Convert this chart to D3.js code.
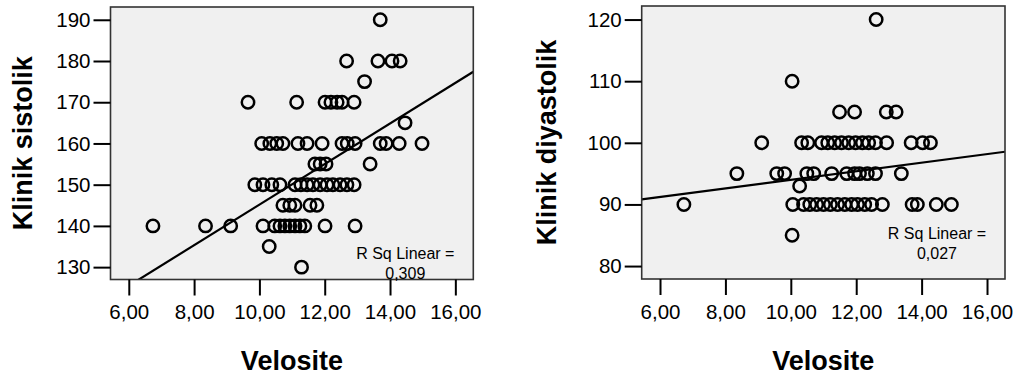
<!DOCTYPE html>
<html>
<head>
<meta charset="utf-8">
<script src="https://cdn.jsdelivr.net/npm/d3@7"></script>
<style>
  body { margin: 0; background: #fff; }
  svg text { font-family: Arial, "Liberation Sans", sans-serif; fill: #000; }
</style>
</head>
<body>
<div id="chart"></div>
<script>
// velocity ticks shared by both panels
var veloTicks = [6, 8, 10, 12, 14, 16];
var sisTicks = [130, 140, 150, 160, 170, 180, 190];
var diaTicks = [80, 90, 100, 110, 120];

// left panel: Velosite vs Klinik sistolik
var sisVelo = [
  13.70,
  12.67, 13.63, 14.06, 14.31,
  13.22,
  9.65, 11.14, 12.01, 12.19, 12.38, 12.53, 12.90,
  14.46,
  10.07, 10.32, 10.53, 10.72, 11.18, 11.46, 11.92, 12.53, 12.69, 12.93, 13.70, 13.88, 14.28, 14.98,
  11.70, 11.86, 12.04, 13.39,
  9.86, 10.11, 10.38, 10.63, 11.09, 11.27, 11.46, 11.64, 11.86, 12.07, 12.25, 12.47, 12.68, 12.90,
  10.72, 10.93, 11.09, 11.55, 11.76,
  6.74, 8.35, 9.12, 10.11, 10.47, 10.63, 10.78, 10.93, 11.09, 11.24, 11.39, 12.01, 12.93,
  10.30,
  11.29
];
var sisValue = [
  190,
  180, 180, 180, 180,
  175,
  170, 170, 170, 170, 170, 170, 170,
  165,
  160, 160, 160, 160, 160, 160, 160, 160, 160, 160, 160, 160, 160, 160,
  155, 155, 155, 155,
  150, 150, 150, 150, 150, 150, 150, 150, 150, 150, 150, 150, 150, 150,
  145, 145, 145, 145, 145,
  140, 140, 140, 140, 140, 140, 140, 140, 140, 140, 140, 140, 140,
  135,
  130
];
var sisFit = [95.96, 4.92];   // intercept, slope
var sisRsq = "0,309";

// right panel: Velosite vs Klinik diyastolik
var diaVelo = [
  12.61,
  10.04,
  11.49, 11.95, 12.92, 13.22,
  9.11, 10.33, 10.52, 10.94, 11.13, 11.34, 11.55, 11.77, 11.98, 12.19, 12.38, 12.59, 12.93, 13.68, 14.03, 14.27,
  8.35, 9.57, 9.81, 10.49, 10.70, 11.25, 11.71, 11.95, 12.10, 12.34, 12.59, 13.38,
  10.27,
  6.73, 10.06, 10.39, 10.58, 10.79, 11.00, 11.21, 11.43, 11.65, 11.86, 12.04, 12.26, 12.47, 12.80, 13.71, 13.87, 14.45, 14.91,
  10.04
];
var diaValue = [
  120,
  110,
  105, 105, 105, 105,
  100, 100, 100, 100, 100, 100, 100, 100, 100, 100, 100, 100, 100, 100, 100, 100,
  95, 95, 95, 95, 95, 95, 95, 95, 95, 95, 95, 95,
  93,
  90, 90, 90, 90, 90, 90, 90, 90, 90, 90, 90, 90, 90, 90, 90, 90, 90, 90,
  85
];
var diaFit = [87.05, 0.695];
var diaRsq = "0,027";

var width = 1019;
var height = 376;

var svg = d3.select("#chart").append("svg")
  .attr("width", width)
  .attr("height", height);

var fmt = function(d) { return d3.format(".2f")(d).replace(".", ","); };

function draw_panel(opt) {
  var x = d3.scaleLinear().domain([5.44, 16.55]).range([opt.left, opt.right]);
  var y = d3.scaleLinear().domain(opt.ydom).range([opt.bottom, opt.top]);

  var g = svg.append("g");

  g.append("rect")
    .attr("x", opt.left)
    .attr("y", opt.top)
    .attr("width", opt.right - opt.left)
    .attr("height", opt.bottom - opt.top)
    .style("fill", "#f0f0f0");

  var clipId = "clip" + opt.id;
  g.append("clipPath").attr("id", clipId)
    .append("rect")
    .attr("x", opt.left)
    .attr("y", opt.top)
    .attr("width", opt.right - opt.left)
    .attr("height", opt.bottom - opt.top);

  // fit line
  var xd = x.domain();
  g.append("line")
    .attr("clip-path", "url(#" + clipId + ")")
    .attr("x1", x(xd[0]))
    .attr("y1", y(opt.fit[0] + opt.fit[1] * xd[0]))
    .attr("x2", x(xd[1]))
    .attr("y2", y(opt.fit[0] + opt.fit[1] * xd[1]))
    .style("stroke", "#000")
    .style("stroke-width", 2.2);

  g.selectAll(".pt").data(opt.xs)
    .enter().append("circle")
    .attr("class", "pt")
    .attr("cx", function(d) { return x(d); })
    .attr("cy", function(d, i) { return y(opt.ys[i]); })
    .attr("r", 6.2)
    .style("fill", "none")
    .style("stroke", "#000")
    .style("stroke-width", 2.5);

  g.append("rect")
    .attr("x", opt.left)
    .attr("y", opt.top)
    .attr("width", opt.right - opt.left)
    .attr("height", opt.bottom - opt.top)
    .style("fill", "none")
    .style("stroke", "#333")
    .style("stroke-width", 1.6);

  // axes
  var xa = g.append("g")
    .attr("transform", "translate(0," + opt.bottom + ")")
    .call(d3.axisBottom(x).tickValues(veloTicks).tickFormat(fmt).tickSize(16).tickPadding(9));
  var ya = g.append("g")
    .attr("transform", "translate(" + opt.left + ",0)")
    .call(d3.axisLeft(y).tickValues(opt.yticks).tickFormat(d3.format("d")).tickSize(17).tickPadding(3));

  [xa, ya].forEach(function(a) {
    a.select(".domain").remove();
    a.selectAll("line").style("stroke", "#000").style("stroke-width", 2);
    a.selectAll("text").style("font-size", "20.5px").style("fill", "#000");
  });

  // r square note
  var cx = opt.right - 68;
  g.append("text")
    .attr("x", cx).attr("y", opt.bottom - opt.rsqY)
    .attr("text-anchor", "middle")
    .style("font-size", "16px")
    .text("R Sq Linear =");
  g.append("text")
    .attr("x", cx).attr("y", opt.bottom - opt.rsqY + 20)
    .attr("text-anchor", "middle")
    .style("font-size", "16px")
    .text(opt.rsq);

  // axis titles
  g.append("text")
    .attr("x", (opt.left + opt.right) / 2)
    .attr("y", 370)
    .attr("text-anchor", "middle")
    .style("font-size", "27px")
    .style("font-weight", "bold")
    .text("Velosite");

  g.append("text")
    .attr("transform", "translate(" + (opt.left - opt.titleOff) + "," + ((opt.top + opt.bottom) / 2) + ") rotate(-90)")
    .attr("text-anchor", "middle")
    .style("font-size", "27px")
    .style("font-weight", "bold")
    .text(opt.ytitle);
}

draw_panel({
  id: 1, left: 110.5, right: 473.3, top: 7, bottom: 279.5,
  ydom: [127.0, 193.1], yticks: sisTicks,
  xs: sisVelo, ys: sisValue, fit: sisFit, rsq: sisRsq, rsqY: 21,
  ytitle: "Klinik sistolik", titleOff: 79
});

draw_panel({
  id: 2, left: 641.7, right: 1005, top: 6, bottom: 279,
  ydom: [77.9, 122.2], yticks: diaTicks,
  xs: diaVelo, ys: diaValue, fit: diaFit, rsq: diaRsq, rsqY: 40,
  ytitle: "Klinik diyastolik", titleOff: 86
});
</script>
</body>
</html>
